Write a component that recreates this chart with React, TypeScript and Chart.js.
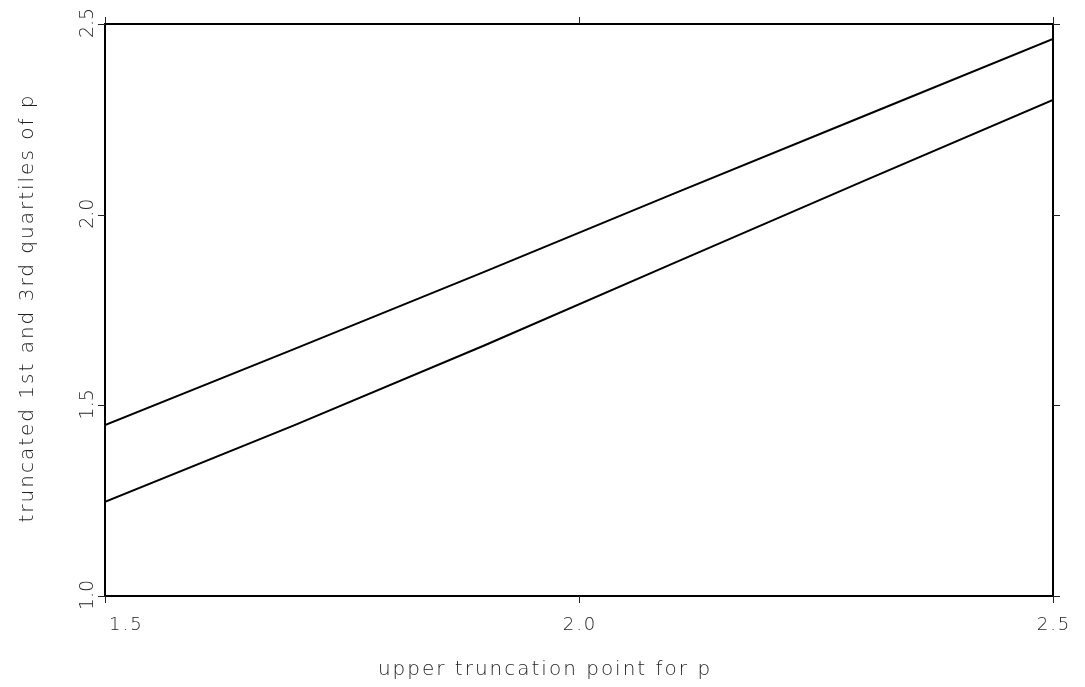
import React, { useEffect, useRef } from "react";
import { Chart, registerables } from "chart.js";

Chart.register(...registerables);

const xValues = [1.5, 1.7, 1.9, 2.1, 2.3, 2.5];
const upperQuartile = [1.448, 1.648, 1.85, 2.055, 2.258, 2.461];
const lowerQuartile = [1.247, 1.448, 1.657, 1.873, 2.088, 2.301];
const xTickValues = [1.5, 2.0, 2.5];
const yTickValues = [1.0, 1.5, 2.0, 2.5];
const xTitle = "upper truncation point for p";
const yTitle = "truncated 1st and 3rd quartiles of p";

const FONT_FAMILY = "'DejaVu Sans', sans-serif";
const TEXT_COLOR = "#1e1e1e";

const framePlugin = {
  id: "framePlugin",
  afterDraw(chart: any) {
    const { ctx, chartArea, scales } = chart;
    const { left, right, top, bottom } = chartArea;
    const xs = scales.x;
    const ys = scales.y;
    ctx.save();
    // border
    ctx.strokeStyle = "#000";
    ctx.lineWidth = 2;
    ctx.strokeRect(left, top, right - left, bottom - top);
    // ticks
    ctx.lineWidth = 1;
    ctx.strokeStyle = "#222";
    const tl = 7;
    ctx.beginPath();
    xTickValues.forEach((v) => {
      const px = Math.round(xs.getPixelForValue(v)) + 0.5;
      ctx.moveTo(px, bottom);
      ctx.lineTo(px, bottom + tl);
      ctx.moveTo(px, top);
      ctx.lineTo(px, top - tl);
    });
    yTickValues.forEach((v) => {
      const py = Math.round(ys.getPixelForValue(v)) + 0.5;
      ctx.moveTo(left, py);
      ctx.lineTo(left - tl, py);
      ctx.moveTo(right, py);
      ctx.lineTo(right + tl, py);
    });
    ctx.stroke();

    // tick labels
    ctx.fillStyle = TEXT_COLOR;
    ctx.font = `200 18px ${FONT_FAMILY}`;
    (ctx as any).letterSpacing = "2px";
    ctx.textBaseline = "alphabetic";
    xTickValues.forEach((v, i) => {
      const px = xs.getPixelForValue(v);
      const label = v.toFixed(1);
      if (i === 0) {
        ctx.textAlign = "left";
        ctx.fillText(label, px + 4, 630);
      } else {
        ctx.textAlign = "center";
        ctx.fillText(label, px + 1, 630);
      }
    });
    ctx.font = `200 19px ${FONT_FAMILY}`;
    (ctx as any).letterSpacing = "0px";
    yTickValues.forEach((v) => {
      const py = ys.getPixelForValue(v);
      ctx.save();
      ctx.translate(93, py);
      ctx.rotate(-Math.PI / 2);
      ctx.textAlign = "center";
      ctx.fillText(v.toFixed(1), 1, 0);
      ctx.restore();
    });

    // titles
    ctx.font = `200 20px ${FONT_FAMILY}`;
    (ctx as any).letterSpacing = "2px";
    ctx.textAlign = "center";
    ctx.fillText(xTitle, 545, 675);
    ctx.save();
    ctx.translate(33, 308);
    ctx.rotate(-Math.PI / 2);
    ctx.fillText(yTitle, 0, 0);
    ctx.restore();
    ctx.restore();
  },
};

export default function App() {
  const canvasRef = useRef<HTMLCanvasElement | null>(null);

  useEffect(() => {
    document.body.style.margin = "0";
    const canvas = canvasRef.current;
    if (!canvas) return;
    const chart = new Chart(canvas, {
      type: "line",
      data: {
        datasets: [
          {
            label: "3rd quartile",
            data: xValues.map((x, i) => ({ x, y: upperQuartile[i] })),
            borderColor: "#000",
            borderWidth: 2,
            pointRadius: 0,
            tension: 0,
            fill: false,
          },
          {
            label: "1st quartile",
            data: xValues.map((x, i) => ({ x, y: lowerQuartile[i] })),
            borderColor: "#000",
            borderWidth: 2,
            pointRadius: 0,
            tension: 0,
            fill: false,
          },
        ],
      },
      options: {
        responsive: false,
        animation: false,
        devicePixelRatio: 1,
        layout: { padding: { left: 105, right: 32, top: 24, bottom: 91 } },
        plugins: { legend: { display: false }, tooltip: { enabled: false } },
        scales: {
          x: { type: "linear", min: 1.5, max: 2.5, display: false },
          y: { type: "linear", min: 1.0, max: 2.5, display: false },
        },
      },
      plugins: [framePlugin],
    });
    return () => chart.destroy();
  }, []);

  return (
    <div style={{ position: "absolute", left: 0, top: 0, width: 1085, height: 687, background: "#fff" }}>
      <canvas ref={canvasRef} width={1085} height={687} style={{ width: 1085, height: 687, display: "block" }} />
    </div>
  );
}
